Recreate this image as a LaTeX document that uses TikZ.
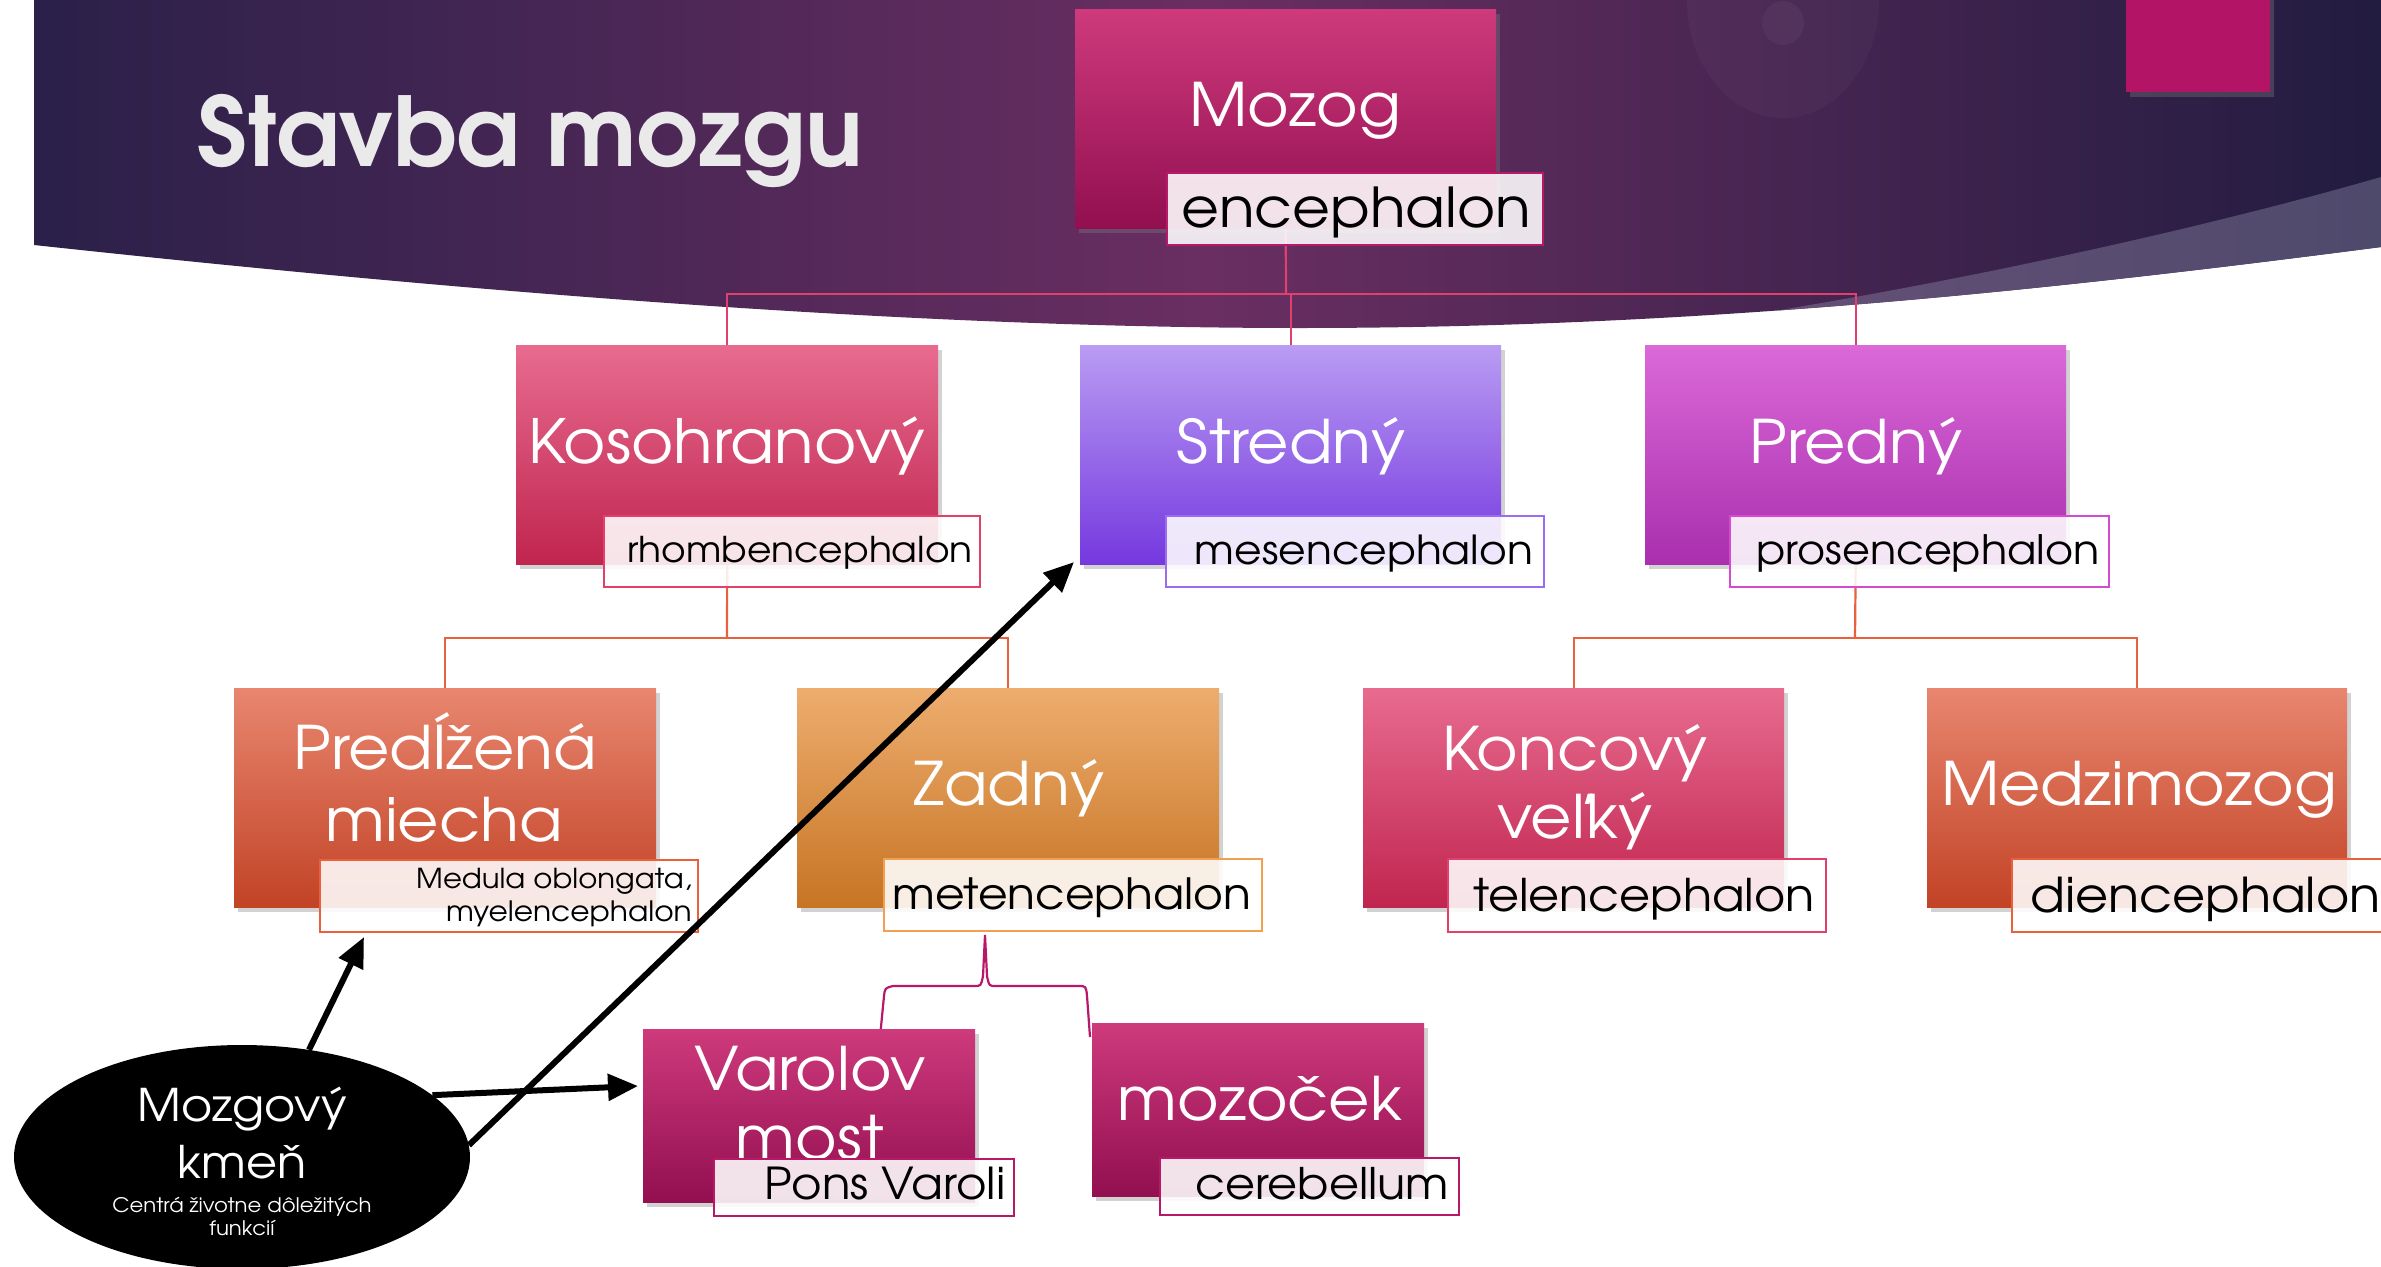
\documentclass[tikz,border=0pt]{standalone}
\usepackage{fontspec}
\usetikzlibrary{shapes.geometric,shadows,arrows.meta}
\newfontfamily\cg{texgyreadventor}[Extension=.otf, UprightFont=*-regular, BoldFont=*-bold, FakeStretch=1.06]
\newfontfamily\cgt{texgyreadventor}[Extension=.otf, UprightFont=*-bold]
\definecolor{bandL}{HTML}{2A2049}
\definecolor{bandM}{HTML}{6A2E62}
\definecolor{bandR}{HTML}{221C40}
\definecolor{swL}{HTML}{6A5078}
\definecolor{swR}{HTML}{4E4A6C}
\definecolor{magR}{HTML}{B31466}
\definecolor{mozT}{HTML}{CE3A7C}
\definecolor{mozB}{HTML}{920F50}
\definecolor{kosT}{HTML}{E86B8F}
\definecolor{kosB}{HTML}{C0254F}
\definecolor{strT}{HTML}{B99CF3}
\definecolor{strB}{HTML}{7538DF}
\definecolor{preT}{HTML}{DB69D8}
\definecolor{preB}{HTML}{A92FAE}
\definecolor{pdT}{HTML}{E8866F}
\definecolor{pdB}{HTML}{C24326}
\definecolor{zaT}{HTML}{EDAD6E}
\definecolor{zaB}{HTML}{C77424}
\definecolor{lMag}{HTML}{B81868}
\definecolor{lKos}{HTML}{E2406C}
\definecolor{lStr}{HTML}{9A6CF0}
\definecolor{lPre}{HTML}{D44AD0}
\definecolor{lOr}{HTML}{E8603C}
\definecolor{lZa}{HTML}{F0A050}
\definecolor{cPink}{HTML}{E0406C}
\definecolor{cOr}{HTML}{E8603C}
\definecolor{cMag}{HTML}{B8186A}
\definecolor{titleC}{HTML}{EAEAEA}
\pgfdeclarelayer{bandlayer}
\pgfdeclarelayer{conlayer}
\pgfsetlayers{bandlayer,conlayer,main}
\begin{document}
\begin{tikzpicture}[x=1pt,y=-1pt,
  bx/.style={inner sep=0, anchor=north west, drop shadow={opacity=0.35,shadow xshift=4pt,shadow yshift=-5pt}},
  lab/.style={inner sep=0, anchor=north west, fill=white, fill opacity=0.88, draw=#1, line width=2.2pt},
  mtxt/.style={inner sep=0, anchor=base, text=white, font={\cg\fontsize{60}{60}\selectfont}},
  ltxt/.style={inner sep=0, anchor=base, text=black, font={\cg\fontsize{#1}{#1}\selectfont}},
  wtxt/.style={inner sep=0, anchor=base, text=white, font={\cg\fontsize{#1}{#1}\selectfont}},
  con/.style={draw=#1, line width=2.2pt},
  arr/.style={line width=6pt, -{Triangle[length=30pt,width=26pt]}}
]
\useasboundingbox (0,0) rectangle (2381,1266);
\clip (0,0) rectangle (2381,1266);
\begin{pgfonlayer}{bandlayer}
\fill[white] (0,0) rectangle (2381,1266);
\path[left color=bandL, right color=bandR, middle color=bandM]
  (34,0) -- (2381,0) -- (2381,247) .. controls (2050,290) and (1700,328) .. (1300,328)
  .. controls (900,328) and (450,290) .. (34,245) -- cycle;
\begin{scope}
  \clip (34,0) -- (2381,0) -- (2381,247) .. controls (2050,290) and (1700,328) .. (1300,328)
  .. controls (900,328) and (450,290) .. (34,245) -- cycle;
  \path[left color=swL, right color=swR] (1650,330) .. controls (1900,295) and (2180,235) .. (2381,177)
    -- (2381,400) -- (1650,400) -- cycle;
\end{scope}
\fill[white, opacity=0.03] (1783,0) ellipse [x radius=96, y radius=118];
\fill[white, opacity=0.04] (1783,23) ellipse [x radius=21, y radius=22];
\end{pgfonlayer}
\node[bx, fill=magR, minimum width=144pt, minimum height=100pt] (sq) at (2126,-8) {};
\node[anchor=base west, inner sep=0, text=titleC, font={\cgt\fontsize{96}{96}\selectfont}] (title) at (197,166) {Stavba mozgu};
% boxes
\node[bx, top color=mozT, bottom color=mozB, minimum width=421pt, minimum height=219pt] (moz) at (1075,9) {};
\node[bx, top color=kosT, bottom color=kosB, minimum width=422pt, minimum height=219pt] (kos) at (516,345) {};
\node[bx, top color=strT, bottom color=strB, minimum width=421pt, minimum height=219pt] (str) at (1080,345) {};
\node[bx, top color=preT, bottom color=preB, minimum width=421pt, minimum height=219pt] (pre) at (1645,345) {};
\node[bx, top color=pdT, bottom color=pdB, minimum width=422pt, minimum height=219pt] (pd) at (234,688) {};
\node[bx, top color=zaT, bottom color=zaB, minimum width=422pt, minimum height=219pt] (za) at (797,688) {};
\node[bx, top color=kosT, bottom color=kosB, minimum width=421pt, minimum height=219pt] (ko) at (1363,688) {};
\node[bx, top color=pdT, bottom color=pdB, minimum width=420pt, minimum height=219pt] (me) at (1927,688) {};
\node[bx, top color=mozT, bottom color=mozB, minimum width=332pt, minimum height=173pt] (va) at (643,1029) {};
\node[bx, top color=mozT, bottom color=mozB, minimum width=332pt, minimum height=173pt] (mc) at (1092,1023) {};
% connectors
\begin{pgfonlayer}{conlayer}
\coordinate (h1) at (1286,294);
\draw[con=cPink] (moz.south) -- (h1);
\draw[con=cPink] (kos.north) |- (h1) -| (pre.north);
\draw[con=cPink] (str.north) -- (str.north |- h1);
\coordinate (h2) at (727,638);
\draw[con=cOr] (kos.south) -- (h2);
\draw[con=cOr] (pd.north) |- (h2) -| (za.north);
\coordinate (h3) at (1855,638);
\draw[con=cOr] (pre.south) -- (h3);
\draw[con=cOr] (ko.north) |- (h3) -| (me.north);
\coordinate (bl) at (880,1037);
\coordinate (bt) at (985,935);
\coordinate (br) at (1090,1037);
\draw[con=cMag] (bl) -- (884,996) .. controls (885,988) .. (893,986) -- (974,986)
  .. controls (981,986) .. (983,976) -- (bt) -- (987,976) .. controls (989,986) .. (996,986)
  -- (1078,986) .. controls (1086,986) .. (1087,996) -- (br);
\end{pgfonlayer}
% label boxes
\node[lab=lMag, minimum width=376pt, minimum height=72pt] (encL) at (1166,172) {};
\node[lab=lKos, minimum width=376pt, minimum height=71pt] (kosL) at (603,515) {};
\node[lab=lStr, minimum width=378pt, minimum height=71pt] (strL) at (1165,515) {};
\node[lab=lPre, minimum width=379pt, minimum height=71pt] (preL) at (1729,515) {};
\node[lab=lOr, minimum width=378pt, minimum height=72pt] (pdL) at (319,859) {};
\node[lab=lZa, minimum width=378pt, minimum height=72pt] (zaL) at (883,858) {};
\node[lab=lKos, minimum width=378pt, minimum height=73pt] (koL) at (1447,858) {};
\node[lab=lOr, minimum width=390pt, minimum height=73pt] (meL) at (2011,858) {};
\node[lab=lMag, minimum width=299pt, minimum height=57pt] (mcL) at (1159,1157) {};
% texts
\node[mtxt] (tMoz) at (1295,126) {Mozog};
\node[ltxt=55] (tEnc) at (1356,227) {encephalon};
\node[mtxt, font={\cg\fontsize{61}{61}\selectfont}] (tKos) at (727,463) {Kosohranový};
\node[mtxt] (tStr) at (1291,463) {Stredný};
\node[mtxt] (tPre) at (1856,463) {Predný};
\node[ltxt=35.5] (tRho) at (800,562) {rhombencephalon};
\node[ltxt=40] (tMes) at (1364,564) {mesencephalon};
\node[ltxt=40.5] (tPro) at (1928,564) {prosencephalon};
\node[mtxt] (tPd1) at (445,769) {Predĺžená};
\node[mtxt] (tPd2) at (444,841) {miecha};
\node[mtxt] (tZa) at (1009,805) {Zadný};
\node[mtxt] (tKo1) at (1575,770) {Koncový};
\node[mtxt] (tKo2) at (1575,838) {veľký};
\node[mtxt] (tMe) at (2139,805) {Medzimozog};
\node[ltxt=27.5, anchor=base east] (tMed1) at (692,888) {Medula oblongata,};
\node[ltxt=28, anchor=base east] (tMed2) at (692,921) {myelencephalon};
\node[ltxt=43] (tMet) at (1072,909) {metencephalon};
\node[ltxt=45] (tTel) at (1644,911) {telencephalon};
\node[ltxt=48, anchor=base west] (tDie) at (2030,912) {diencephalon};
\node[mtxt] (tVa1) at (810,1090) {Varolov};
\node[mtxt] (tVa2) at (810,1159) {most};
\node[lab=lMag, minimum width=300pt, minimum height=57pt] (vaL) at (713,1158) {};
\node[ltxt=44] (tPon) at (885,1199) {Pons Varoli};
\node[mtxt] (tMc) at (1260,1120) {mozoček};
\node[ltxt=43.5] (tCer) at (1322,1199) {cerebellum};
% brain stem ellipse
\node[ellipse, fill=black, minimum width=456pt, minimum height=224pt, inner sep=0] (kmen) at (242,1157) {};
\node[wtxt=45] (tKm1) at (242,1121) {Mozgový};
\node[wtxt=45] (tKm2) at (242,1178) {kmeň};
\node[wtxt=20] (tKm3) at (242,1212) {Centrá životne dôležitých};
\node[wtxt=20] (tKm4) at (242,1235) {funkcií};
% arrows
\coordinate (t1) at (364,937);
\coordinate (t2) at (638,1086);
\coordinate (t3) at (1074,562);
\draw[arr] (kmen.58) -- (t1);
\draw[arr] (kmen.18) -- (t2);
\draw[arr] (kmen.3) -- (t3);
\end{tikzpicture}
\end{document}
